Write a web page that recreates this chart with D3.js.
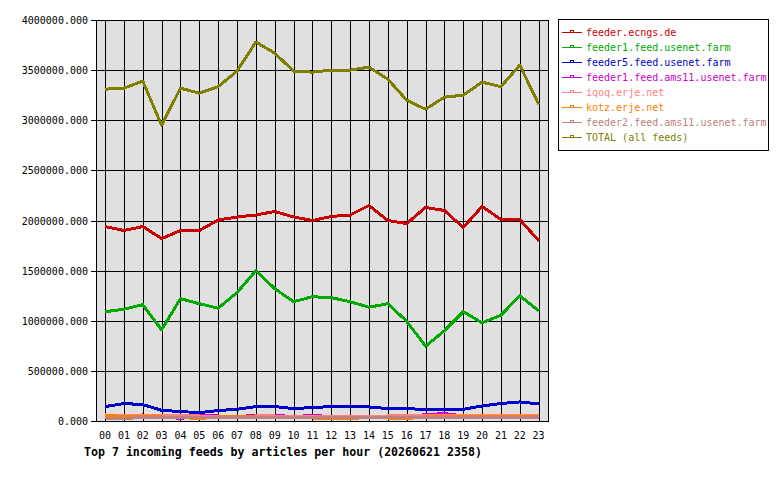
<!DOCTYPE html>
<html>
<head>
<meta charset="utf-8">
<script src="https://cdn.jsdelivr.net/npm/d3@7"></script>
<style>
  body { margin: 0; background: #ffffff; }
  svg { display: block; font-family: "DejaVu Sans Mono", monospace; }
</style>
</head>
<body>
<svg id="chart" width="780" height="480"></svg>
<script>
// hours on the x axis
var hours = ["00","01","02","03","04","05","06","07","08","09","10","11",
             "12","13","14","15","16","17","18","19","20","21","22","23"]

// y axis ticks
var yTicks = [0, 500000, 1000000, 1500000, 2000000, 2500000, 3000000, 3500000, 4000000]

// feed names, in legend order
var feedNames = ["feeder.ecngs.de", "feeder1.feed.usenet.farm", "feeder5.feed.usenet.farm",
                 "feeder1.feed.ams11.usenet.farm", "iqoq.erje.net", "kotz.erje.net",
                 "feeder2.feed.ams11.usenet.farm", "TOTAL (all feeds)"]

var feedColors = ["#cc0000", "#00aa00", "#0000cc", "#cc00cc", "#ff8080", "#ff8000", "#c08080", "#808000"]

// articles per hour
var ecngs = [1940000,1900000,1940000,1820000,1900000,1900000,2005000,2035000,2055000,2090000,2035000,2000000,
             2040000,2055000,2150000,2000000,1970000,2130000,2100000,1930000,2140000,2010000,2010000,1800000]
var usenetFarm1 = [1090000,1115000,1160000,910000,1220000,1170000,1125000,1280000,1500000,1320000,1190000,1240000,
                   1230000,1190000,1135000,1170000,995000,745000,900000,1090000,980000,1055000,1250000,1100000]
var usenetFarm5 = [144000,174000,164000,107000,94000,84000,104000,117000,144000,144000,124000,134000,
                   144000,144000,140000,124000,124000,114000,114000,117000,150000,174000,190000,170000]
var ams11a = [40000,45000,60000,45000,25000,55000,50000,45000,55000,55000,45000,55000,
              45000,40000,40000,35000,50000,62000,75000,50000,40000,40000,45000,45000]
var iqoq = [60000,55000,55000,50000,50000,50000,45000,45000,50000,50000,45000,45000,
            45000,45000,45000,50000,50000,50000,50000,50000,50000,55000,55000,55000]
var kotz = [55000,45000,45000,40000,35000,25000,40000,40000,40000,35000,40000,30000,
            25000,25000,35000,30000,25000,40000,40000,40000,40000,40000,40000,40000]
var ams11b = [30000,25000,35000,35000,35000,30000,30000,30000,30000,30000,30000,30000,
              30000,30000,30000,35000,30000,30000,30000,30000,30000,30000,30000,30000]
var total = [3310000,3320000,3390000,2950000,3320000,3270000,3335000,3490000,3780000,3670000,3490000,3480000,
             3500000,3500000,3530000,3410000,3200000,3110000,3230000,3250000,3380000,3335000,3550000,3160000]

var series = [ecngs, usenetFarm1, usenetFarm5, ams11a, iqoq, kotz, ams11b, total]

var svg = d3.select("#chart")

// plot box
var plotLeft = 96, plotRight = 549, plotTop = 20, plotBottom = 421

var x = d3.scaleLinear()
	.domain([-0.48, 23.55])
	.range([plotLeft, plotRight])

var y = d3.scaleLinear()
	.domain([0, 4000000])
	.range([plotBottom, plotTop])

svg.append("rect")
	.attr("x", plotLeft)
	.attr("y", plotTop)
	.attr("width", plotRight - plotLeft)
	.attr("height", plotBottom - plotTop)
	.attr("fill", "#e0e0e0")

// grid lines
svg.append("g")
	.selectAll("line")
	.data(hours)
	.enter()
	.append("line")
	.attr("x1", function(d, i) { return Math.round(x(i)) + 0.5 })
	.attr("x2", function(d, i) { return Math.round(x(i)) + 0.5 })
	.attr("y1", plotTop)
	.attr("y2", plotBottom)
	.attr("stroke", "#000")
	.attr("shape-rendering", "crispEdges")

svg.append("g")
	.selectAll("line")
	.data(yTicks)
	.enter()
	.append("line")
	.attr("x1", plotLeft - 5)
	.attr("x2", plotRight)
	.attr("y1", function(d) { return Math.round(y(d)) + 0.5 })
	.attr("y2", function(d) { return Math.round(y(d)) + 0.5 })
	.attr("stroke", "#000")
	.attr("shape-rendering", "crispEdges")

// y labels
svg.append("g")
	.selectAll("text")
	.data(yTicks)
	.enter()
	.append("text")
	.attr("x", 88)
	.attr("y", function(d) { return Math.round(y(d)) + 4 })
	.attr("text-anchor", "end")
	.attr("font-size", "10px")
	.text(function(d) { return d3.format(".3f")(d) })

// x labels
svg.append("g")
	.selectAll("text")
	.data(hours)
	.enter()
	.append("text")
	.attr("x", function(d, i) { return x(i) })
	.attr("y", 438.5)
	.attr("text-anchor", "middle")
	.attr("font-size", "10px")
	.text(function(d) { return d })

// feed lines
var line = d3.line()
	.x(function(d, i) { return x(i) })
	.y(function(d) { return y(d) })

svg.append("g")
	.selectAll("path")
	.data(series)
	.enter()
	.append("path")
	.attr("d", line)
	.attr("fill", "none")
	.attr("stroke", function(d, i) { return feedColors[i] })
	.attr("stroke-width", 3)
	.attr("stroke-linejoin", "round")
	.attr("shape-rendering", "crispEdges")

// plot frame
svg.append("rect")
	.attr("x", plotLeft + 0.5)
	.attr("y", plotTop + 0.5)
	.attr("width", plotRight - plotLeft - 1)
	.attr("height", plotBottom - plotTop)
	.attr("fill", "none")
	.attr("stroke", "#000")
	.attr("shape-rendering", "crispEdges")

// title
svg.append("text")
	.attr("x", 84)
	.attr("y", 456)
	.attr("font-size", "11.6px")
	.attr("font-weight", "bold")
	.text("Top 7 incoming feeds by articles per hour (20260621 2358)")

// legend
var legend = svg.append("g")
legend.append("rect")
	.attr("x", 558.5)
	.attr("y", 19.5)
	.attr("width", 210)
	.attr("height", 131)
	.attr("fill", "#fff")
	.attr("stroke", "#000")
	.attr("shape-rendering", "crispEdges")

var item = legend.selectAll("g.item")
	.data(feedNames)
	.enter()
	.append("g")
	.attr("class", "item")
	.attr("transform", function(d, i) { return "translate(0," + (32.5 + i * 15) + ")" })

item.append("line")
	.attr("x1", 562)
	.attr("x2", 582)
	.attr("y1", 0)
	.attr("y2", 0)
	.attr("stroke", function(d, i) { return feedColors[i] })
	.attr("shape-rendering", "crispEdges")

item.append("rect")
	.attr("x", 570.5)
	.attr("y", -2)
	.attr("width", 3)
	.attr("height", 2)
	.attr("fill", "none")
	.attr("stroke", function(d, i) { return feedColors[i] })
	.attr("shape-rendering", "crispEdges")

item.append("text")
	.attr("x", 586)
	.attr("y", 3.5)
	.attr("font-size", "10px")
	.attr("fill", function(d, i) { return feedColors[i] })
	.text(function(d) { return d })
</script>
</body>
</html>
